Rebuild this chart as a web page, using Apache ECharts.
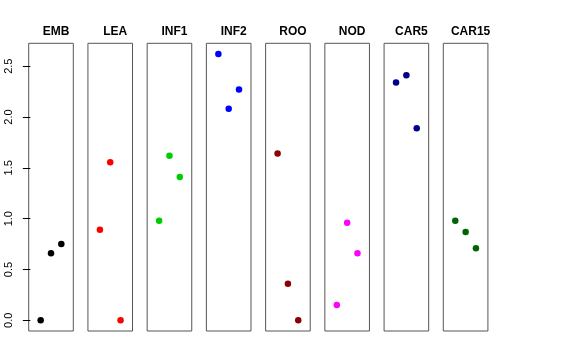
<!DOCTYPE html>
<html>
<head>
<meta charset="utf-8">
<script src="https://cdn.jsdelivr.net/npm/echarts@6/dist/echarts.min.js"></script>
<style>html,body{margin:0;padding:0;background:#fff}#c{width:576px;height:360px}</style>
</head>
<body>
<div id="c"></div>
<script>
const categories = ["EMB", "LEA", "INF1", "INF2", "ROO", "NOD", "CAR5", "CAR15"];
const xPositions = [1, 2, 3];
const EMB = [0.00, 0.66, 0.75];
const LEA = [0.89, 1.555, 0.00];
const INF1 = [0.98, 1.62, 1.41];
const INF2 = [2.62, 2.08, 2.27];
const ROO = [1.64, 0.36, 0.00];
const NOD = [0.15, 0.96, 0.66];
const CAR5 = [2.34, 2.41, 1.89];
const CAR15 = [0.98, 0.87, 0.71];
const seriesValues = [EMB, LEA, INF1, INF2, ROO, NOD, CAR5, CAR15];
const colors = ["#000000", "#FF0000", "#00CD00", "#0000FF", "#8B0000", "#FF00FF", "#00008B", "#006400"];
const yTicks = [0, 0.5, 1.0, 1.5, 2.0, 2.5];
const yTickLabels = ["0.0", "0.5", "1.0", "1.5", "2.0", "2.5"];

const FONT = "'Liberation Sans', Arial, Helvetica, sans-serif";
const gridLeft0 = 28.7, gridStep = 59.23, gridW = 44.6, gridTop = 43.3, gridH = 287.7;
const yMin = -0.105, yMax = 2.725;

const grids = [], xAxes = [], yAxes = [], series = [], titles = [];
categories.forEach((cat, i) => {
  const left = gridLeft0 + gridStep * i;
  grids.push({left: left, top: gridTop, width: gridW, height: gridH, show: true,
    borderColor: '#555555', borderWidth: 1, backgroundColor: 'transparent'});
  xAxes.push({type: 'value', gridIndex: i, min: -0.16, max: 4.16, show: false});
  yAxes.push({
    type: 'value', gridIndex: i, min: yMin, max: yMax,
    show: i === 0,
    splitLine: {show: false},
    axisLine: {show: false},
    axisTick: {show: i === 0, length: 7.5, lineStyle: {color: '#000'}, customValues: yTicks},
    axisLabel: {show: i === 0, rotate: 90, margin: 14, color: '#000', fontSize: 11, fontFamily: FONT,
      customValues: yTicks,
      formatter: v => { const k = yTicks.findIndex(t => Math.abs(t - v) < 1e-9); return k >= 0 ? yTickLabels[k] : ''; }}
  });
  series.push({
    type: 'scatter', xAxisIndex: i, yAxisIndex: i,
    data: xPositions.map((x, j) => [x, seriesValues[i][j]]),
    symbol: 'circle', symbolSize: 6.5,
    itemStyle: {color: colors[i], opacity: 1},
    silent: true, animation: false
  });
  titles.push({text: cat, left: left + gridW / 2, top: 21, textAlign: 'center',
    textStyle: {fontSize: 12, fontWeight: 'bold', color: '#000', fontFamily: FONT}});
});

const chart = echarts.init(document.getElementById('c'), null, {renderer: 'canvas'});
chart.setOption({
  animation: false,
  backgroundColor: '#ffffff',
  title: titles,
  grid: grids,
  xAxis: xAxes,
  yAxis: yAxes,
  series: series
});
</script>
</body>
</html>
